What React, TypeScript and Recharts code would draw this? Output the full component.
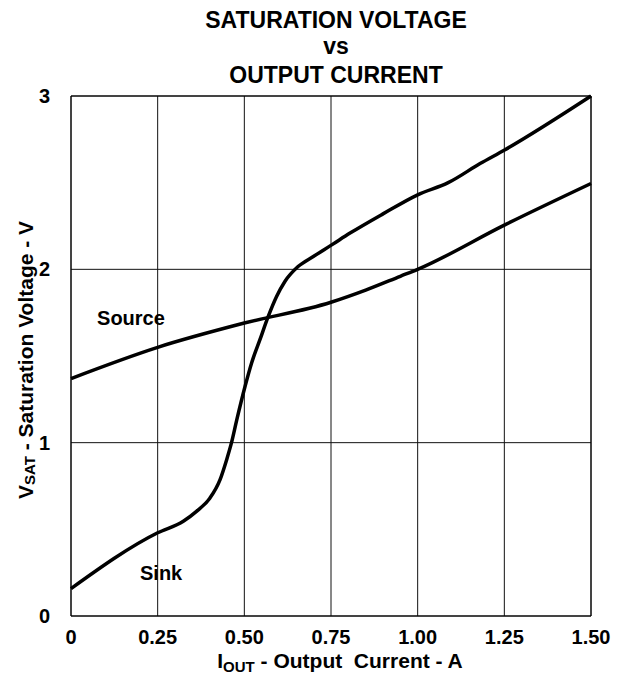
import React from "react";
import {
  LineChart,
  Line,
  XAxis,
  YAxis,
  CartesianGrid,
  ReferenceLine,
  ReferenceDot,
} from "recharts";

// Output current (A) and saturation voltage (V)
const sourceCurrent = [0, 0.25, 0.5, 0.75, 0.85, 0.95, 1.0, 1.25, 1.5];
const sourceVoltage = [1.37, 1.55, 1.69, 1.81, 1.88, 1.96, 2.0, 2.255, 2.495];

const sinkCurrent = [
  0, 0.25, 0.324, 0.362, 0.401, 0.43, 0.449, 0.463, 0.478, 0.502, 0.521, 0.545,
  0.569, 0.593, 0.617, 0.655, 0.699, 0.752, 0.805, 0.9, 1.0, 1.088, 1.18, 1.252,
  1.5,
];
const sinkVoltage = [
  0.158, 0.48, 0.547, 0.604, 0.681, 0.787, 0.902, 1.0, 1.13, 1.324, 1.46, 1.594,
  1.728, 1.843, 1.93, 2.016, 2.074, 2.141, 2.209, 2.32, 2.43, 2.5, 2.61, 2.69,
  3.0,
];

const xTicks = [0, 0.25, 0.5, 0.75, 1.0, 1.25, 1.5];
const yTicks = [0, 1, 2, 3];

const titleLines = ["SATURATION VOLTAGE", "vs", "OUTPUT CURRENT"];

const sourceData = sourceCurrent.map((x, i) => ({ x, v: sourceVoltage[i] }));
const sinkData = sinkCurrent.map((x, i) => ({ x, v: sinkVoltage[i] }));

const FONT = '"Liberation Sans", Arial, Helvetica, sans-serif';

const XLabel = (props: any) => {
  const vb = props.viewBox;
  const cx = vb.x + vb.width / 2 + 9;
  return (
    <text
      x={cx}
      y={660}
      textAnchor="middle"
      fontFamily={FONT}
      fontWeight="bold"
      fontSize={21}
      fill="#000"
      style={{ whiteSpace: "pre" }}
    >
      <tspan>I</tspan>
      <tspan fontSize={15} dy={4}>OUT</tspan>
      <tspan dy={-4}>{" - Output  Current - A"}</tspan>
    </text>
  );
};

const YLabel = (props: any) => {
  const cx = 17;
  const cy = 352;
  return (
    <text
      x={cx}
      y={cy}
      textAnchor="middle"
      dominantBaseline="central"
      transform={`rotate(-90, ${cx}, ${cy})`}
      fontFamily={FONT}
      fontWeight="bold"
      fontSize={21}
      fill="#000"
      style={{ whiteSpace: "pre" }}
    >
      <tspan>V</tspan>
      <tspan fontSize={15} dy={4}>SAT</tspan>
      <tspan dy={-4}>{" - Saturation Voltage - V"}</tspan>
    </text>
  );
};

const TextLabel = (text: string) => (props: any) => {
  const vb = props.viewBox;
  const x = vb.cx !== undefined ? vb.cx : vb.x;
  const y = vb.cy !== undefined ? vb.cy : vb.y;
  return (
    <text
      x={x}
      y={y}
      textAnchor="middle"
      dominantBaseline="central"
      fontFamily={FONT}
      fontWeight="bold"
      fontSize={20}
      fill="#000"
    >
      {text}
    </text>
  );
};

export default function App() {
  return (
    <div style={{ position: "relative", width: 616, height: 668 }}>
      <svg
        width={616}
        height={90}
        style={{ position: "absolute", left: 0, top: 0 }}
      >
        {titleLines.map((t, i) => (
          <text
            key={i}
            x={328}
            y={[20, 46, 75][i]}
            textAnchor="middle"
            fontFamily={FONT}
            fontWeight="bold"
            fontSize={23}
            fill="#000"
          >
            {t}
          </text>
        ))}
      </svg>
      <LineChart
        width={616}
        height={668}
        margin={{ top: 88, right: 33, bottom: 30, left: 0 }}
        style={{ position: "absolute", left: 0, top: 0 }}
      >
        <CartesianGrid stroke="#111" strokeWidth={1} />
        <XAxis
          type="number"
          dataKey="x"
          domain={[0, 1.5]}
          ticks={xTicks}
          height={30}
          allowDuplicatedCategory={false}
          tickFormatter={(v: number) => (v === 0 ? "0" : v.toFixed(2))}
          tickLine={false}
          tickSize={0}
          tickMargin={14}
          axisLine={{ stroke: "#000", strokeWidth: 1 }}
          tick={{ fill: "#000", fontFamily: FONT, fontWeight: "bold", fontSize: 20 }}
          label={<XLabel />}
          interval={0}
        />
        <YAxis
          type="number"
          domain={[0, 3]}
          ticks={yTicks}
          width={63}
          tickLine={false}
          tickSize={0}
          tickMargin={21}
          axisLine={{ stroke: "#000", strokeWidth: 1 }}
          tick={{ fill: "#000", fontFamily: FONT, fontWeight: "bold", fontSize: 20 }}
          label={<YLabel />}
          interval={0}
        />
        <ReferenceLine y={3} stroke="#000" strokeWidth={1} />
        <ReferenceLine x={1.5} stroke="#000" strokeWidth={1} />
        <Line
          data={sourceData}
          dataKey="v"
          type="monotone"
          stroke="#000"
          strokeWidth={3.5}
          dot={false}
          isAnimationActive={false}
        />
        <Line
          data={sinkData}
          dataKey="v"
          type="monotone"
          stroke="#000"
          strokeWidth={3.5}
          dot={false}
          isAnimationActive={false}
        />
        <ReferenceDot x={0.173} y={1.719} r={0} label={TextLabel("Source")} />
        <ReferenceDot x={0.26} y={0.248} r={0} label={TextLabel("Sink")} />
      </LineChart>
    </div>
  );
}
